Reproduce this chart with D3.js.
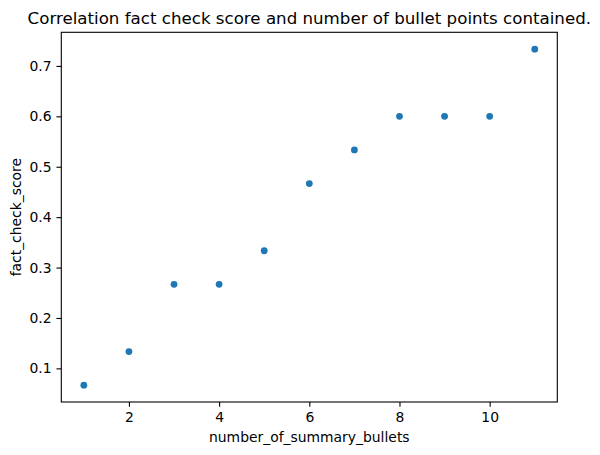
<!DOCTYPE html>
<html>
<head>
<meta charset="utf-8">
<script src="https://cdn.jsdelivr.net/npm/d3@7"></script>
<style>
  body { margin: 0; background: #fff; }
  text { font-family: "DejaVu Sans", sans-serif; fill: #000; }
</style>
</head>
<body>
<svg id="chart" width="600" height="455"></svg>
<script>
const bullets = [1, 2, 3, 4, 5, 6, 7, 8, 9, 10, 11];
const scores = [0.0667, 0.1333, 0.2667, 0.2667, 0.3333, 0.4667, 0.5333, 0.6, 0.6, 0.6, 0.7333];
const xTicks = [2, 4, 6, 8, 10];
const yTicks = [0.1, 0.2, 0.3, 0.4, 0.5, 0.6, 0.7];
const titleText = "Correlation fact check score and number of bullet points contained.";
const xLabel = "number_of_summary_bullets";
const yLabel = "fact_check_score";

const svg = d3.select("#chart");
const L = 61.3, R = 557.3, T = 32.3, B = 402;

const x = d3.scaleLinear().domain([0.5, 11.5]).range([L, R]);
const y = d3.scaleLinear().domain([0.0333, 0.7667]).range([B, T]);

const tickLen = 4.86, tickPad = 4.86, fs = "13.9px";

// Points
svg.append("g").selectAll("circle")
  .data(bullets.map((b, i) => ({b, s: scores[i]})))
  .enter().append("circle")
  .attr("cx", d => x(d.b))
  .attr("cy", d => y(d.s))
  .attr("r", 3.4)
  .attr("fill", "#1f77b4");

// Axes
const xAxis = d3.axisBottom(x).tickValues(xTicks).tickFormat(d3.format("d"))
  .tickSize(tickLen).tickPadding(tickPad).tickSizeOuter(0);
const gx = svg.append("g").attr("transform", `translate(0,${B})`).call(xAxis);
gx.select(".domain").remove();
gx.selectAll("line").attr("stroke", "#000").attr("stroke-width", 1.1);
gx.selectAll("text").attr("font-size", fs).attr("font-family", "DejaVu Sans").attr("fill", "#000");

const yAxis = d3.axisLeft(y).tickValues(yTicks).tickFormat(d3.format(".1f"))
  .tickSize(tickLen).tickPadding(tickPad).tickSizeOuter(0);
const gy = svg.append("g").attr("transform", `translate(${L},0)`).call(yAxis);
gy.select(".domain").remove();
gy.selectAll("line").attr("stroke", "#000").attr("stroke-width", 1.1);
gy.selectAll("text").attr("font-size", fs).attr("font-family", "DejaVu Sans").attr("fill", "#000");

// Frame
svg.append("rect").attr("x", L).attr("y", T).attr("width", R - L).attr("height", B - T)
  .attr("fill", "none").attr("stroke", "#000").attr("stroke-width", 1.1);

// Title
svg.append("text").attr("x", (L + R) / 2).attr("y", 23.5)
  .attr("text-anchor", "middle").attr("font-size", "16.67px").text(titleText);

// X label
svg.append("text").attr("x", (L + R) / 2).attr("y", 441.5)
  .attr("text-anchor", "middle").attr("font-size", fs).text(xLabel);

// Y label
svg.append("text").attr("transform", `translate(20.5,${(T + B) / 2}) rotate(-90)`)
  .attr("text-anchor", "middle").attr("font-size", fs).text(yLabel);
</script>
</body>
</html>
